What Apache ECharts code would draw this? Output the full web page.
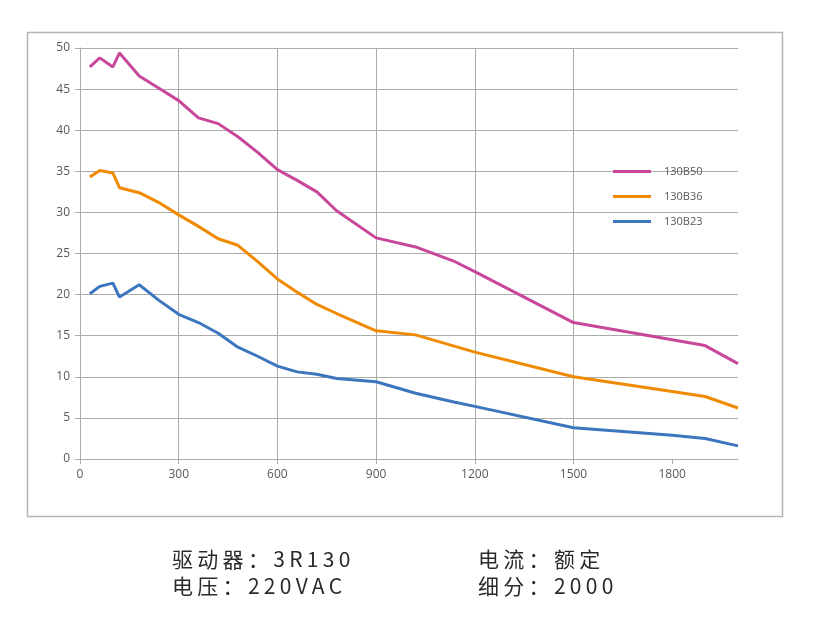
<!DOCTYPE html>
<html><head><meta charset="utf-8">
<script src="https://cdn.jsdelivr.net/npm/echarts@6/dist/echarts.min.js"></script>
<style>
html,body{margin:0;padding:0;background:#fff}
#wrap{position:relative;width:816px;height:636px}
#c{width:816px;height:636px}
.info{position:absolute;font-family:"Noto Sans CJK SC","Noto Sans",sans-serif;font-size:21px;line-height:27px;letter-spacing:4.3px;color:#2a2a2a;white-space:nowrap}
</style>
</head><body><div id="wrap"><div id="c"></div>
<div class="info" id="l1" style="left:172px;top:545px"></div>
<div class="info" id="l2" style="left:172px;top:572px"></div>
<div class="info" id="r1" style="left:478px;top:545px"></div>
<div class="info" id="r2" style="left:478px;top:572px"></div>
</div>
<script>
const speeds = [30, 60, 100, 120, 180, 240, 300, 360, 420, 480, 540, 600, 660, 720, 780, 900, 1020, 1140, 1200, 1500, 1800, 1900, 2000];
const b50 = [47.7, 48.8, 47.7, 49.4, 46.6, 45.1, 43.6, 41.5, 40.8, 39.2, 37.3, 35.2, 33.9, 32.5, 30.2, 26.9, 25.8, 24.0, 22.8, 16.6, 14.5, 13.8, 11.6];
const b36 = [34.3, 35.1, 34.8, 33.0, 32.4, 31.2, 29.7, 28.3, 26.8, 26.0, 24.0, 21.9, 20.3, 18.8, 17.7, 15.6, 15.1, 13.7, 13.0, 10.0, 8.2, 7.6, 6.2];
const b23 = [20.1, 21.0, 21.4, 19.7, 21.2, 19.3, 17.6, 16.6, 15.3, 13.6, 12.5, 11.3, 10.6, 10.3, 9.8, 9.4, 8.0, 6.9, 6.4, 3.8, 2.9, 2.5, 1.6];
const seriesNames = ['130B50', '130B36', '130B23'];
const xTicks = [0, 300, 600, 900, 1200, 1500, 1800];
const infoLeft = ['驱动器：3R130', '电压：220VAC'];
const infoRight = ['电流：额定', '细分：2000'];

document.getElementById('l1').textContent = infoLeft[0];
document.getElementById('l2').textContent = infoLeft[1];
document.getElementById('r1').textContent = infoRight[0];
document.getElementById('r2').textContent = infoRight[1];

const colors = ['#C8479B', '#F08A00', '#3C76BE'];
const pair = arr => speeds.map((s, i) => [s, arr[i]]);
const chart = echarts.init(document.getElementById('c'), null, {renderer: 'canvas'});
const gridColor = '#ABABAB';
const labelStyle = {color: '#595959', fontSize: 12, fontFamily: 'Open Sans'};
chart.setOption({
  animation: false,
  color: colors,
  grid: {left: 80, right: 78, top: 48, bottom: 177, containLabel: false},
  legend: {
    orient: 'vertical', left: 613, top: 166, padding: 0,
    icon: 'rect', itemWidth: 38, itemHeight: 3, itemGap: 14,
    textStyle: {color: '#595959', fontSize: 11, fontFamily: 'Open Sans', padding: [0, 0, 0, 8]},
    data: seriesNames
  },
  xAxis: {
    type: 'value', min: 0, max: 2000, interval: 300,
    axisLine: {show: true, lineStyle: {color: gridColor, width: 1}},
    axisTick: {show: true, length: 5, lineStyle: {color: gridColor}, customValues: xTicks},
    axisLabel: Object.assign({margin: 10, customValues: xTicks, formatter: v => String(v)}, labelStyle),
    splitLine: {show: true, showMaxLine: false, lineStyle: {color: gridColor, width: 1}}
  },
  yAxis: {
    type: 'value', min: 0, max: 50, interval: 5,
    axisLine: {show: true, lineStyle: {color: gridColor, width: 1}},
    axisTick: {show: true, length: 5, lineStyle: {color: gridColor}},
    axisLabel: Object.assign({margin: 10}, labelStyle),
    splitLine: {show: true, lineStyle: {color: gridColor, width: 1}}
  },
  series: [b50, b36, b23].map((d, i) => ({
    name: seriesNames[i], type: 'line', data: pair(d), showSymbol: false, symbol: 'none',
    lineStyle: {width: 3, color: colors[i]}, itemStyle: {color: colors[i]}
  })),
  graphic: [
    {type: 'rect', shape: {x: 27.5, y: 32.5, width: 755, height: 484}, style: {fill: 'none', stroke: '#B5B5B5', lineWidth: 1.5}, silent: true}
  ]
});
</script></body></html>
